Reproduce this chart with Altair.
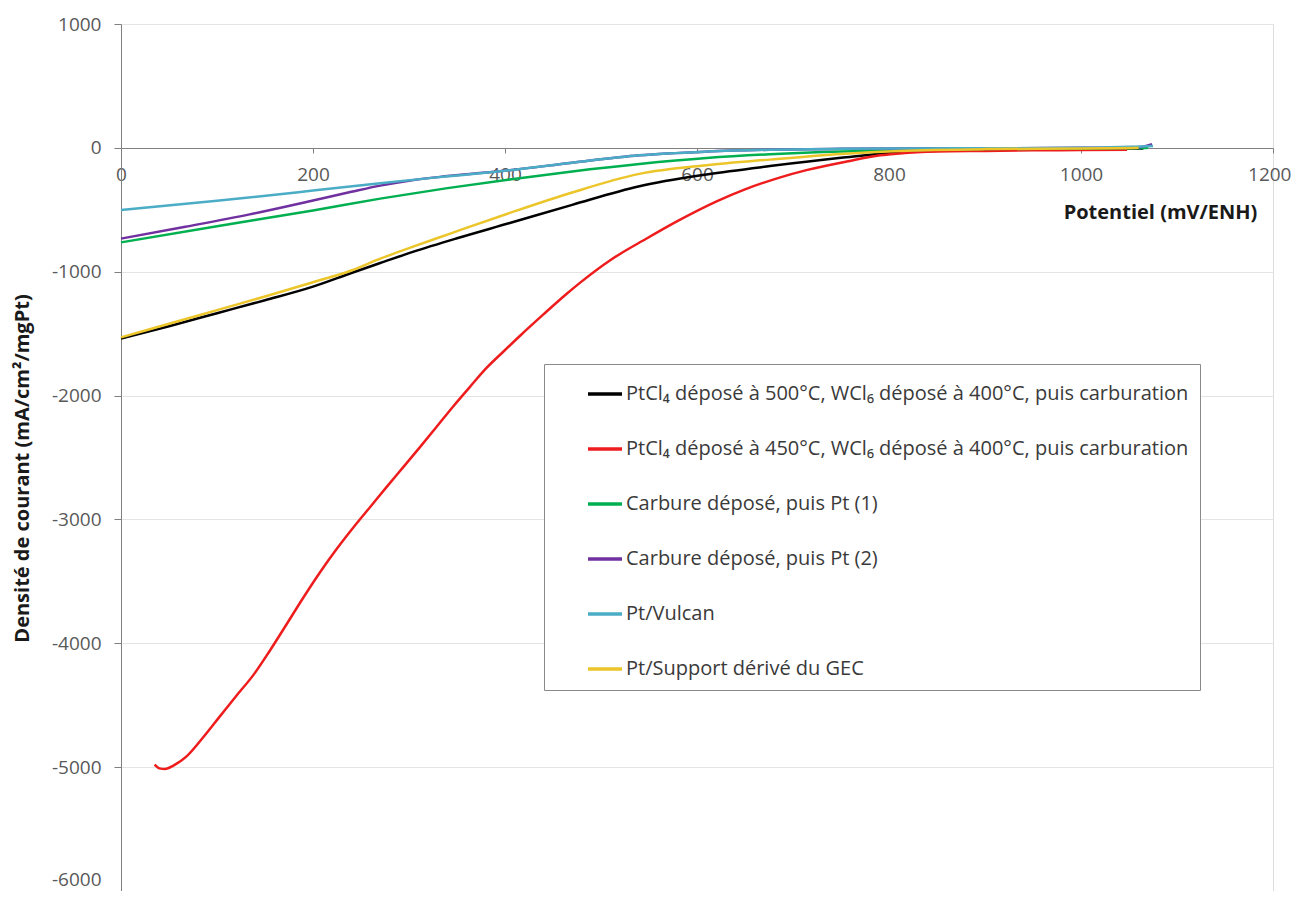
import altair as alt
import pandas as pd

# Series labels (legend order)
s_black = "PtCl₄ déposé à 500°C, WCl₆ déposé à 400°C, puis carburation"
s_red = "PtCl₄ déposé à 450°C, WCl₆ déposé à 400°C, puis carburation"
s_green = "Carbure déposé, puis Pt (1)"
s_purple = "Carbure déposé, puis Pt (2)"
s_cyan = "Pt/Vulcan"
s_yellow = "Pt/Support dérivé du GEC"

series_names = [s_black, s_red, s_green, s_purple, s_cyan, s_yellow]
series_colors = ["#000000", "#EE1C1C", "#00B050", "#7030A0", "#4BACC6", "#EBC52A"]

black_x = [0, 50, 100, 150, 200, 240, 270, 304, 350, 405, 470, 540, 610, 676, 750, 811, 900, 1000, 1065]
black_y = [-1540, -1440, -1335, -1230, -1120, -1010, -930, -840, -730, -607, -460, -310, -215, -147, -80, -35, -15, -8, -5]

red_x = [35, 40, 46, 55, 68, 85, 103, 120, 138, 155, 173, 190, 207, 225, 242, 260, 277, 294, 311, 329, 346,
         364, 381, 399, 416, 440, 464, 478, 510, 548, 580, 621, 650, 686, 714, 756, 791, 811, 850, 900, 950,
         1000, 1048]
red_y = [-4980, -5010, -5015, -4985, -4915, -4765, -4590, -4425, -4255, -4060, -3840, -3630, -3430, -3235,
         -3065, -2895, -2735, -2578, -2420, -2250, -2088, -1925, -1775, -1640, -1515, -1345, -1180, -1090,
         -905, -730, -590, -430, -335, -240, -180, -110, -60, -45, -30, -25, -20, -18, -15]

green_x = [0, 100, 200, 270, 340, 405, 470, 540, 610, 676, 750, 811, 900, 1000, 1070]
green_y = [-763, -633, -505, -410, -325, -255, -190, -130, -82, -52, -30, -20, -10, -5, 0]

purple_x = [0, 67, 134, 200, 240, 270, 300, 340, 405, 470, 540, 610, 676, 750, 811, 900, 1000, 1060, 1074]
purple_y = [-733, -637, -537, -425, -355, -305, -265, -228, -180, -120, -60, -30, -15, -8, -5, -3, 0, 5, 30]

cyan_x = [0, 100, 200, 270, 340, 405, 470, 540, 610, 676, 750, 811, 900, 1000, 1075]
cyan_y = [-502, -428, -345, -285, -230, -180, -120, -60, -30, -15, -8, -5, -3, 0, 15]

yellow_x = [0, 50, 100, 150, 200, 240, 270, 305, 340, 405, 470, 540, 610, 676, 750, 811, 900, 1000, 1060]
yellow_y = [-1530, -1420, -1310, -1200, -1085, -990, -895, -795, -700, -525, -360, -210, -140, -95, -50, -25, -10, -5, 0]

x_ticks = [0, 200, 400, 600, 800, 1000, 1200]
y_ticks = [-6000, -5000, -4000, -3000, -2000, -1000, 0, 1000]

rows = []
for order, (name, xs, ys) in enumerate([
    (s_black, black_x, black_y),
    (s_red, red_x, red_y),
    (s_green, green_x, green_y),
    (s_purple, purple_x, purple_y),
    (s_cyan, cyan_x, cyan_y),
    (s_yellow, yellow_x, yellow_y),
]):
    for i, (xv, yv) in enumerate(zip(xs, ys)):
        rows.append({"serie": name, "ordre": order, "i": i, "x": xv, "y": yv})
df = pd.DataFrame(rows)

FONT = "Open Sans"
LABEL_EXPR = "datum.value < 0 ? '-' + format(-datum.value, 'd') : format(datum.value, 'd')"

chart = alt.Chart(df).mark_line(strokeWidth=2.5, interpolate="monotone").encode(
    x=alt.X("x:Q",
            scale=alt.Scale(domain=[0, 1200], nice=False, zero=False),
            axis=alt.Axis(values=x_ticks, offset=-743, grid=False,
                          domainColor="#808080", tickColor="#808080", tickSize=5,
                          labelColor="#595959", labelFontSize=19, labelFont=FONT,
                          labelExpr=LABEL_EXPR,
                          labelAlign={"condition": {"test": "datum.value == 1200", "value": "right"},
                                      "value": "center"},
                          labelOffset={"condition": {"test": "datum.value == 1200", "value": 18},
                                       "value": 0},
                          labelPadding=12, labelFlush=False, labelOverlap=False,
                          title="Potentiel (mV/ENH)", titleFont=FONT, titleFontSize=20,
                          titleFontWeight="bold", titleColor="#1a1a1a",
                          titleX=1039, titleY=64, titleAlign="center", titleBaseline="middle")),
    y=alt.Y("y:Q",
            scale=alt.Scale(domain=[-6000, 1000], nice=False, zero=False),
            axis=alt.Axis(values=y_ticks, grid=True, gridColor="#E4E4E4",
                          domainColor="#808080", tickColor="#808080", tickSize=7,
                          labelColor="#595959", labelFontSize=19, labelFont=FONT,
                          labelExpr=LABEL_EXPR,
                          labelBaseline={"condition": {"test": "datum.value == -6000", "value": "bottom"},
                                         "value": "middle"},
                          labelOffset={"condition": {"test": "datum.value == -6000", "value": -2},
                                       "value": 0},
                          labelPadding=13, labelFlush=False, labelOverlap=False,
                          title="Densité de courant (mA/cm²/mgPt)", titleFont=FONT, titleFontSize=20,
                          titleFontWeight="bold", titleColor="#1a1a1a",
                          titleX=-99, titleY=444, titleAngle=-90,
                          titleAlign="center", titleBaseline="middle")),
    color=alt.Color("serie:N",
                    scale=alt.Scale(domain=series_names, range=series_colors),
                    sort=series_names,
                    legend=alt.Legend(title=None, orient="none", legendX=423, legendY=340,
                                      direction="vertical",
                                      fillColor="#FFFFFF", strokeColor="#8a8a8a",
                                      padding=11, rowPadding=26,
                                      symbolType="stroke", symbolSize=1156, symbolStrokeWidth=3.5,
                                      symbolOffset=31, labelOffset=2,
                                      labelFont=FONT, labelFontSize=20, labelColor="#3a3a3a",
                                      labelLimit=900)),
    detail="serie:N",
    order=alt.Order("i:Q"),
).properties(
    width=1152,
    height=867,
    autosize=alt.AutoSizeParams(type="none"),
    padding={"left": 113, "top": 16, "right": 19, "bottom": 0},
).configure_view(
    stroke="#8a8a8a", strokeWidth=1
).configure(background="#FFFFFF")

chart.save("out.html", embed_options={"renderer": "svg", "actions": False})
